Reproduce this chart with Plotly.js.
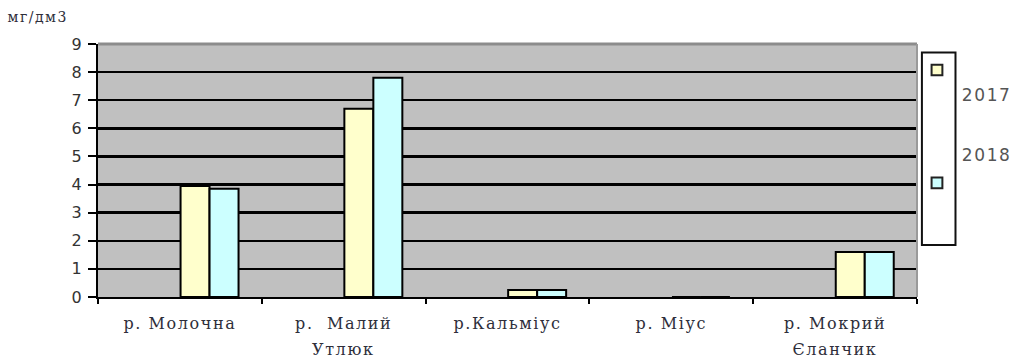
<!DOCTYPE html>
<html>
<head>
<meta charset="utf-8">
<script src="https://cdn.plot.ly/plotly-3.0.1.min.js"></script>
<style>
  html, body { margin: 0; padding: 0; background: #fff; }
  #chart { width: 1018px; height: 364px; }
  /* wide lettering for the labels */
  #chart .xtick text { letter-spacing: 1.6px; }
  #chart .annotation-text.wide { letter-spacing: 1.6px; }
</style>
</head>
<body>
<div id="chart"></div>
<script>
// Rivers: first and second line of each name
const riverLine1 = ['р. Молочна', 'р.  Малий', 'р.Кальміус', 'р. Міус', 'р. Мокрий'];
const riverLine2 = ['', 'Утлюк', '', '', 'Єланчик'];
const rivers = riverLine1.map((a, i) => riverLine2[i] ? a + ' ' + riverLine2[i] : a);
// Concentrations, mg/dm3
const values2017 = [3.95, 6.7, 0.25, 0, 1.6];
const values2018 = [3.85, 7.8, 0.25, 0, 1.6];
const seriesNames = ['2017', '2018'];
const seriesColors = ['#ffffcc', '#ccffff'];
const unitLabel = 'мг/дм3';

// bars sit to the right of each category centre, side by side
const barWidth = 0.177;
const traces = [values2017, values2018].map((vals, i) => ({
  type: 'bar',
  x: rivers,
  y: vals,
  name: seriesNames[i],
  width: barWidth,
  offset: i * barWidth + 0.004,
  marker: { color: seriesColors[i], line: { color: '#000', width: 2 } },
  hoverinfo: 'x+y'
}));

const serifFont = 'DejaVu Serif, Liberation Serif, serif';
const sansFont = 'DejaVu Sans, Liberation Sans, sans-serif';
const textColor = '#2e2e3a';

// Legend: a tall framed box with the swatches inside and the labels beside it
const swatchY = [0.897, 0.451];
const labelY = [0.798, 0.561];
const shapes = [
  // lighter frame on the top and right of the plotting area
  { type: 'line', xref: 'paper', yref: 'paper', x0: 0, x1: 1, y0: 1, y1: 1,
    line: { color: '#8c8c8c', width: 3 } },
  { type: 'line', xref: 'paper', yref: 'paper', x0: 1, x1: 1, y0: 0, y1: 1,
    line: { color: '#9a9a9a', width: 2 } },
  { type: 'rect', xref: 'paper', yref: 'paper', x0: 1.006, x1: 1.047, y0: 0.206, y1: 0.966,
    fillcolor: '#fff', line: { color: '#111', width: 2 } }
];
const annotations = [
  { xref: 'paper', yref: 'paper', x: -0.108, y: 1.107, xanchor: 'left', yanchor: 'middle',
    text: unitLabel, showarrow: false,
    font: { family: serifFont, size: 14, color: textColor } }
];
seriesNames.forEach((n, i) => {
  shapes.push({ type: 'rect', xref: 'paper', yref: 'paper',
    x0: 1.0178, x1: 1.031, y0: swatchY[i] - 0.021, y1: swatchY[i] + 0.021,
    fillcolor: seriesColors[i], line: { color: '#222', width: 2 } });
  annotations.push({ xref: 'paper', yref: 'paper', x: 1.0845, y: labelY[i],
    xanchor: 'center', yanchor: 'middle', text: n, showarrow: false,
    font: { family: sansFont, size: 17, color: '#555' } });
});
// second lines of the two-word river names, set below the first line
riverLine2.forEach((t, i) => {
  if (!t) return;
  annotations.push({ xref: 'x', yref: 'paper', x: rivers[i], y: -0.207,
    xanchor: 'center', yanchor: 'middle', text: t, showarrow: false,
    font: { family: serifFont, size: 16, color: textColor } });
});

const layout = {
  width: 1018, height: 364,
  margin: { l: 98, r: 101, t: 44, b: 67 },
  paper_bgcolor: '#fff',
  plot_bgcolor: '#c0c0c0',
  showlegend: false,
  barmode: 'group',
  xaxis: {
    type: 'category',
    range: [-0.5, 4.5],
    tickvals: rivers,
    ticktext: riverLine1,
    showgrid: false,
    zeroline: false,
    showline: true, linecolor: '#000', linewidth: 2,
    ticks: 'outside', tickson: 'boundaries', ticklen: 5, tickwidth: 2, tickcolor: '#000',
    ticklabelstandoff: 11,
    tickfont: { family: serifFont, size: 16, color: textColor }
  },
  yaxis: {
    range: [0, 9], dtick: 1,
    showgrid: true, gridcolor: '#000', gridwidth: 2.5,
    zeroline: false,
    showline: true, linecolor: '#000', linewidth: 2,
    ticks: 'outside', ticklen: 8, tickwidth: 2, tickcolor: '#000',
    ticklabelstandoff: 3,
    tickfont: { family: sansFont, size: 16, color: '#333' }
  },
  shapes: shapes,
  annotations: annotations
};

Plotly.newPlot('chart', traces, layout, { displayModeBar: false, staticPlot: true }).then(() => {
  document.querySelectorAll('#chart .annotation-text').forEach(el => {
    if (el.textContent === unitLabel) el.style.letterSpacing = '1.5px';
    else el.classList.add('wide');
  });
});
</script>
</body>
</html>
